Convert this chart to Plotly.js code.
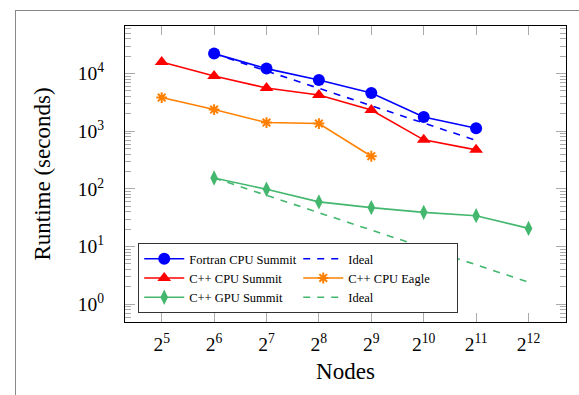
<!DOCTYPE html>
<html>
<head>
<meta charset="utf-8">
<script src="https://cdn.plot.ly/plotly-3.0.1.min.js"></script>
<style>
  html, body { margin: 0; padding: 0; background: #fff; }
  #wrap { position: relative; width: 579px; height: 395px; }
  #chart { width: 579px; height: 395px; }
  #frame { position: absolute; left: 15px; top: 10px; width: 570px; height: 400px;
           border-top: 1px solid #888; border-left: 1px solid #888; pointer-events: none; }
</style>
</head>
<body>
<div id="wrap">
  <div id="chart"></div>
  <div id="frame"></div>
</div>
<script>
// ---- data ----
const nodes = [32, 64, 128, 256, 512, 1024, 2048, 4096];
const xTickText = ['2<sup>5</sup>', '2<sup>6</sup>', '2<sup>7</sup>', '2<sup>8</sup>', '2<sup>9</sup>', '2<sup>10</sup>', '2<sup>11</sup>', '2<sup>12</sup>'];
const yTickVals = [1, 10, 100, 1000, 10000];
const yTickText = ['10<sup>0</sup>', '10<sup>1</sup>', '10<sup>2</sup>', '10<sup>3</sup>', '10<sup>4</sup>'];

const fortranNodes = [64, 128, 256, 512, 1024, 2048];
const fortranCpuSummit = [22200, 12200, 7740, 4610, 1770, 1130];
const fortranIdeal = [22200, 11100, 5550, 2775, 1388, 694];

const cppCpuNodes = [32, 64, 128, 256, 512, 1024, 2048];
const cppCpuSummit = [15900, 9090, 5620, 4250, 2340, 710, 476];

const eagleNodes = [32, 64, 128, 256, 512];
const cppCpuEagle = [3840, 2380, 1415, 1360, 369];

const gpuNodes = [64, 128, 256, 512, 1024, 2048, 4096];
const cppGpuSummit = [155, 98.5, 59.6, 47.5, 39.3, 34.4, 20.7];
const gpuIdeal = [155, 77.5, 38.8, 19.4, 9.7, 4.84, 2.42];

// ---- styles ----
const BLUE = '#0000ff', RED = '#ff0000', ORANGE = '#ff8000', GREEN = '#44b76e';
const FONT = '"Liberation Serif"';

// minor tick positions on the log y axis (2..9 times each decade)
const minorY = [];
for (let d = 0.1; d <= 100000; d *= 10) {
  for (let k = 2; k <= 9; k++) minorY.push(+(k * d).toPrecision(3));
}

const traces = [
  { name: 'Fortran CPU Summit', x: fortranNodes, y: fortranCpuSummit, mode: 'lines+markers',
    line: { color: BLUE, width: 1.6 }, marker: { symbol: 'circle', size: 12, color: BLUE } },
  { name: 'Ideal', x: fortranNodes, y: fortranIdeal, mode: 'lines',
    line: { color: BLUE, width: 1.6, dash: '7px,7px' } },
  { name: 'C++ CPU Summit', x: cppCpuNodes, y: cppCpuSummit, mode: 'lines+markers',
    line: { color: RED, width: 1.6 }, marker: { symbol: 'triangle-up', size: 12, color: RED } },
  { name: 'C++ CPU Eagle', x: eagleNodes, y: cppCpuEagle, mode: 'lines+markers',
    line: { color: ORANGE, width: 1.6 },
    marker: { symbol: 'asterisk-open', size: 9, color: ORANGE, line: { color: ORANGE, width: 2 } } },
  { name: 'C++ GPU Summit', x: gpuNodes, y: cppGpuSummit, mode: 'lines+markers',
    line: { color: GREEN, width: 1.6 }, marker: { symbol: 'diamond-tall', size: 11, color: GREEN } },
  { name: 'Ideal', x: gpuNodes, y: gpuIdeal, mode: 'lines',
    line: { color: GREEN, width: 1.6, dash: '7px,7px' } }
];

const log2 = Math.log10(2);
const layout = {
  width: 579, height: 395,
  margin: { l: 125, r: 13, t: 26, b: 73, pad: 0 },
  paper_bgcolor: 'rgba(0,0,0,0)', plot_bgcolor: '#fff',
  font: { family: FONT, color: '#000' },
  showlegend: true,
  legend: {
    orientation: 'h', x: 0.03, y: 0.03, xanchor: 'left', yanchor: 'bottom',
    bgcolor: '#fff', bordercolor: '#333', borderwidth: 1,
    font: { family: FONT, size: 12.5, color: '#000' },
    itemwidth: 40, entrywidth: 104, traceorder: 'normal'
  },
  xaxis: {
    type: 'log', range: [4.3 * log2, 12.715 * log2],
    tickmode: 'array', tickvals: nodes, ticktext: xTickText,
    ticks: 'inside', ticklen: 9, tickcolor: '#aaa', tickwidth: 1,
    showline: true, linecolor: '#000', linewidth: 1, mirror: 'ticks',
    showgrid: false, zeroline: false,
    tickfont: { family: FONT, size: 19.5 }, ticklabelstandoff: 5,
    title: { text: 'Nodes', font: { family: FONT, size: 23 }, standoff: 8 }
  },
  yaxis: {
    type: 'log', range: [-0.307, 4.825],
    tickmode: 'array', tickvals: yTickVals, ticktext: yTickText,
    ticks: 'inside', ticklen: 10, tickcolor: '#aaa', tickwidth: 1,
    minor: { ticks: 'inside', ticklen: 6, tickcolor: '#aaa', tickmode: 'array', tickvals: minorY, showgrid: false },
    showline: true, linecolor: '#000', linewidth: 1, mirror: 'ticks',
    showgrid: false, zeroline: false,
    tickfont: { family: FONT, size: 19.5 }, ticklabelstandoff: 16,
    title: { text: 'Runtime (seconds)', font: { family: FONT, size: 23 }, standoff: 20 }
  }
};

Plotly.newPlot('chart', traces, layout, { displayModeBar: false, staticPlot: true });
</script>
</body>
</html>
